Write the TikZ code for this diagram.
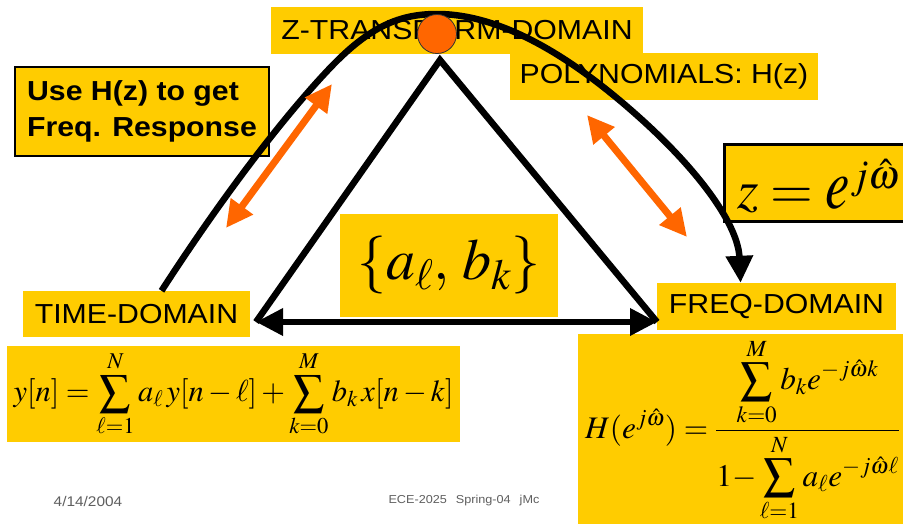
\documentclass[tikz,border=0pt]{standalone}
\usepackage{mathptmx}
\usepackage[no-math]{fontspec}
\setmainfont{Liberation Sans}[FakeStretch=1.1]
\definecolor{slideyellow}{HTML}{FFCC00}
\definecolor{slideorange}{HTML}{FF6600}
\definecolor{footgray}{HTML}{5F5F5F}
\usetikzlibrary{calc, positioning, arrows.meta}

\begin{document}
\begin{tikzpicture}[x=1pt, y=-1pt,
  >={Triangle[length=27pt, width=26pt]},
  ybox/.style={fill=slideyellow, inner sep=0pt, align=center},
  dom/.style={ybox, font=\fontsize{27.5}{33}\selectfont},
  hint/.style={fill=slideyellow, draw=black, line width=2.5pt, align=left,
               inner sep=0pt, font=\fontsize{27.5}{36}\selectfont\bfseries},
  formula/.style={inner sep=0pt, anchor=base west},
  heavy/.style={line width=6.5pt, line join=miter},
  flow/.style={slideorange, line width=7pt, <->},
  foot/.style={footgray, inner sep=0pt},
]
\useasboundingbox (0,0) rectangle (903,523);
\clip (0,0) rectangle (903,523);
\fill[white] (0,0) rectangle (903,523);

% labels behind the arc
\node[dom, minimum width=372pt, minimum height=47pt] (ztd) at (457,30.5) {Z-TRANSFORM-DOMAIN};
\node[dom, minimum width=308pt, minimum height=47pt] (poly) at (664,76.5) {POLYNOMIALS: H(z)};
\node[hint, minimum width=254pt, minimum height=89pt] (hint) at (142,111.5) {Use H(z) to get\\Freq. Response};
\node[dom, minimum width=227pt, minimum height=46pt] (time) at (136.5,314) {TIME-DOMAIN};
\node[dom, minimum width=239pt, minimum height=47pt] (freq) at (776.5,306.5) {FREQ-DOMAIN};

\node[ybox, minimum width=218pt, minimum height=103pt, font=\fontsize{58}{64}\selectfont] (coef) at (449,265.5) {$\{a_\ell,\,b_k\}$};
\node[ybox, minimum width=453pt, minimum height=96pt, font=\fontsize{30.5}{36}\selectfont] (diffeq) at (233.5,394)
  {$\displaystyle y[n]=\sum_{\ell=1}^{N}a_\ell\,y[n-\ell]+\sum_{k=0}^{M}b_k\,x[n-k]$};

\node[ybox, draw=black, line width=2.5pt, anchor=north west, minimum width=230pt, minimum height=77pt] (zbox) at (723,143) {};
\node[formula, font=\fontsize{55}{60}\selectfont] (zsub) at ($(zbox.north west)+(14,65)$)
  {$z=\scalebox{1}[1.3]{$e$}^{j\hat\omega}$};

\node[ybox, anchor=north west, minimum width=340pt, minimum height=200pt] (freqbox) at (578,334) {};
\node[formula, font=\fontsize{31.3}{37}\selectfont] (freqresp) at ($(freqbox.north west)+(7,104)$)
  {$\displaystyle H(e^{j\hat\omega})=\frac{\displaystyle\sum_{k=0}^{M}b_k e^{-j\hat\omega k}}{\displaystyle 1{-}\sum_{\ell=1}^{N}a_\ell e^{-j\hat\omega\ell}}$};

\coordinate (apex) at (440,60);
\coordinate (bl) at (256,322);
\coordinate (br) at (657,322);
\coordinate (cstart) at ($(time.north west)!0.61!(time.north east)$);
\coordinate (cend) at ($(freq.north west)!0.35!(freq.north east)$);
\coordinate (l1) at (226,228);
\coordinate (l2) at (332,84);
\coordinate (r1) at (587,115);
\coordinate (r2) at (687,237);

\draw[heavy] (bl) -- (apex) -- (br);
\draw[heavy, <->] (bl) -- (br);
\draw[heavy, ->] (cstart) .. controls (230,185) and (290,110) .. (330,68)
  .. controls (370,26) and (400,14) .. (437,14)
  .. controls (500,14) and (570,55) .. (640,118)
  .. controls (700,172) and (738,225) .. (cend);
\node[circle, fill=slideorange, draw=black!80, line width=0.8pt, minimum size=39pt, inner sep=0pt] (zdot) at (437,34) {};

\draw[flow] (l1) -- (l2);
\draw[flow] (r1) -- (r2);

\node[foot, font=\fontsize{14}{16}\selectfont] (date) at (88,501) {4/14/2004};
\node[foot, font=\fontsize{11.5}{14}\selectfont] (course) at (464,501) {ECE-2025\hspace{9pt}Spring-04\hspace{9pt}jMc};
\end{tikzpicture}
\end{document}
